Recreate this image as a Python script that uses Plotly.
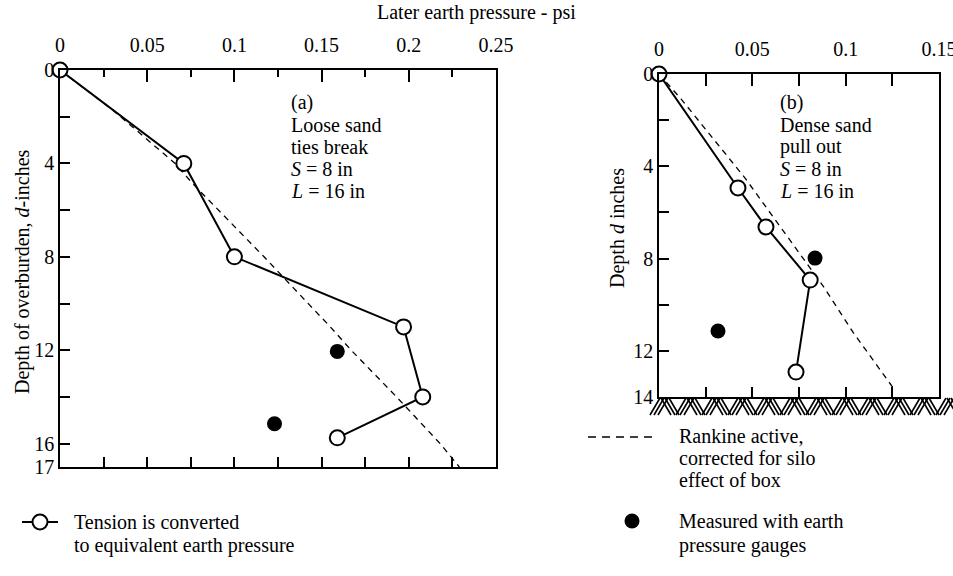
import plotly.graph_objects as go

# ---------------- data ----------------
# panel (a) loose sand, ties break
a_tension_psi = [0, 0.071, 0.100, 0.197, 0.208, 0.159]
a_tension_depth = [0, 4.0, 8.0, 11.0, 14.0, 15.75]
a_gauge_psi = [0.159, 0.123]
a_gauge_depth = [12.05, 15.15]
a_rankine_psi = [0, 0.014, 0.030, 0.066, 0.0765, 0.117, 0.155, 0.167, 0.193, 0.218, 0.229]
a_rankine_depth = [0, 0.8, 1.7, 4.0, 4.9, 8.0, 11.0, 12.0, 14.0, 16.0, 17.0]

# panel (b) dense sand, pull out
b_tension_psi = [0, 0.0423, 0.0573, 0.0810, 0.0734]
b_tension_depth = [0, 4.94, 6.63, 8.93, 12.92]
b_gauge_psi = [0.0836, 0.0316]
b_gauge_depth = [7.98, 11.14]
b_rankine_psi = [0, 0.012, 0.046, 0.074, 0.088, 0.104, 0.1254]
b_rankine_depth = [0, 1.1, 4.5, 7.6, 9.2, 11.2, 13.6]

a_xticks = [0, 0.05, 0.10, 0.15, 0.20, 0.25]
a_xtick_text = ["0", "0.05", "0.1", "0.15", "0.2", "0.25"]
a_yticks = [0, 4, 8, 12, 16, 17]
b_xticks = [0, 0.05, 0.10, 0.15]
b_xtick_text = ["0", "0.05", "0.1", "0.15"]
b_yticks = [0, 4, 8, 12, 14]

W, H = 953, 576
FONT = "Liberation Serif, Times New Roman, serif"
BLK = "black"


def px_x(x):
    return x / W


def px_y(y):
    return 1 - y / H


fig = go.Figure()

# ---- panel a ----
fig.add_trace(go.Scatter(x=a_rankine_psi, y=a_rankine_depth, mode="lines",
                         line=dict(color=BLK, width=1.3, dash="6px,5px"),
                         xaxis="x", yaxis="y", showlegend=False, cliponaxis=False))
fig.add_trace(go.Scatter(x=a_tension_psi, y=a_tension_depth, mode="lines+markers",
                         line=dict(color=BLK, width=2),
                         marker=dict(symbol="circle", size=15, color="white",
                                     line=dict(color=BLK, width=2)),
                         xaxis="x", yaxis="y", showlegend=False, cliponaxis=False))
fig.add_trace(go.Scatter(x=a_gauge_psi, y=a_gauge_depth, mode="markers",
                         marker=dict(symbol="circle", size=15, color=BLK),
                         xaxis="x", yaxis="y", showlegend=False, cliponaxis=False))
# dummy trace so the bottom overlay axis is drawn
fig.add_trace(go.Scatter(x=[None], y=[None], mode="markers", xaxis="x3", yaxis="y",
                         showlegend=False, hoverinfo="skip"))

# ---- panel b ----
fig.add_trace(go.Scatter(x=b_rankine_psi, y=b_rankine_depth, mode="lines",
                         line=dict(color=BLK, width=1.3, dash="6px,5px"),
                         xaxis="x2", yaxis="y2", showlegend=False, cliponaxis=False))
fig.add_trace(go.Scatter(x=b_tension_psi, y=b_tension_depth, mode="lines+markers",
                         line=dict(color=BLK, width=2),
                         marker=dict(symbol="circle", size=15, color="white",
                                     line=dict(color=BLK, width=2)),
                         xaxis="x2", yaxis="y2", showlegend=False, cliponaxis=False))
fig.add_trace(go.Scatter(x=b_gauge_psi, y=b_gauge_depth, mode="markers",
                         marker=dict(symbol="circle", size=15, color=BLK),
                         xaxis="x2", yaxis="y2", showlegend=False, cliponaxis=False))
fig.add_trace(go.Scatter(x=[None], y=[None], mode="markers", xaxis="x4", yaxis="y2",
                         showlegend=False, hoverinfo="skip"))

# ---- decoration on a pixel overlay axis (legend keys, ground hatch) ----
hx, hy = [], []
x0 = 650
while x0 < W + 10:
    for i in range(3):
        s = x0 + i * 4
        hx += [s, s + 10, None]
        hy += [415, 398, None]
    for i in range(3):
        s = x0 + 13 + i * 4
        hx += [s - 2, s + 8, None]
        hy += [398, 415, None]
    x0 += 26
fig.add_trace(go.Scatter(x=hx, y=hy, mode="lines", line=dict(color=BLK, width=1.6),
                         xaxis="x5", yaxis="y5", showlegend=False, hoverinfo="skip"))
# legend keys
fig.add_trace(go.Scatter(x=[22, 58], y=[522, 522], mode="lines", line=dict(color=BLK, width=2),
                         xaxis="x5", yaxis="y5", showlegend=False, hoverinfo="skip"))
fig.add_trace(go.Scatter(x=[40], y=[522], mode="markers",
                         marker=dict(symbol="circle", size=15, color="white",
                                     line=dict(color=BLK, width=2)),
                         xaxis="x5", yaxis="y5", showlegend=False, hoverinfo="skip"))
fig.add_trace(go.Scatter(x=[588, 656], y=[437, 437], mode="lines",
                         line=dict(color=BLK, width=1.3, dash="8px,6px"),
                         xaxis="x5", yaxis="y5", showlegend=False, hoverinfo="skip"))
fig.add_trace(go.Scatter(x=[632], y=[521], mode="markers",
                         marker=dict(symbol="circle", size=15, color=BLK),
                         xaxis="x5", yaxis="y5", showlegend=False, hoverinfo="skip"))

tickfont = dict(family=FONT, size=20, color=BLK)

ax_common = dict(showgrid=False, zeroline=False, showline=True, linecolor=BLK, linewidth=1.5,
                 ticks="inside", tickcolor=BLK, tickfont=tickfont, automargin=False,
                 ticklabeloverflow="allow")

layout = dict(
    template="none",
    width=W, height=H, autosize=False,
    margin=dict(l=0, r=0, t=0, b=0, pad=0),
    paper_bgcolor="white", plot_bgcolor="rgba(0,0,0,0)",
    font=dict(family=FONT, size=20, color=BLK),
    showlegend=False,
    xaxis=dict(domain=[px_x(60), px_x(496)], range=[0, 0.25], side="top", anchor="y",
               tickmode="array", tickvals=a_xticks, ticktext=a_xtick_text, ticklen=12, tickwidth=1.5,
               ticklabelstandoff=8,
               minor=dict(tickvals=[0.025, 0.075, 0.125, 0.175, 0.225], ticklen=7, ticks="inside",
                          tickcolor=BLK, tickwidth=1.5),
               **ax_common),
    yaxis=dict(domain=[px_y(467), px_y(70)], range=[17, 0], anchor="x", mirror=True,
               tickmode="array", tickvals=a_yticks, ticktext=[str(v) for v in a_yticks],
               ticklen=10, tickwidth=1.5,
               minor=dict(tickvals=[2, 6, 10, 14], ticklen=10, ticks="inside", tickcolor=BLK, tickwidth=1.5),
               **ax_common),
    xaxis3=dict(overlaying="x", anchor="y", side="bottom", range=[0, 0.25],
                tickmode="array", tickvals=[0.025, 0.05, 0.075, 0.1, 0.125, 0.15, 0.175, 0.2, 0.225],
                ticklen=10, tickwidth=1.5, showticklabels=False, **ax_common),
    xaxis2=dict(domain=[px_x(659), px_x(939)], range=[0, 0.15], side="top", anchor="y2",
                tickmode="array", tickvals=b_xticks, ticktext=b_xtick_text, ticklen=12, tickwidth=1.5,
                ticklabelstandoff=8,
                minor=dict(tickvals=[0.025, 0.075, 0.125], ticklen=12, ticks="inside",
                           tickcolor=BLK, tickwidth=1.5),
                **ax_common),
    yaxis2=dict(domain=[px_y(397), px_y(74)], range=[14, 0], anchor="x2", mirror=True,
                tickmode="array", tickvals=b_yticks, ticktext=[str(v) for v in b_yticks],
                ticklen=10, tickwidth=1.5,
                minor=dict(tickvals=[2, 6, 10], ticklen=10, ticks="inside", tickcolor=BLK, tickwidth=1.5),
                **ax_common),
    xaxis4=dict(overlaying="x2", anchor="y2", side="bottom", range=[0, 0.15],
                tickmode="array", tickvals=[0.025, 0.05, 0.075, 0.1, 0.125],
                ticklen=10, tickwidth=1.5, showticklabels=False, **ax_common),
    xaxis5=dict(domain=[0, 1], range=[0, W], visible=False, anchor="y5", fixedrange=True,
                automargin=False),
    yaxis5=dict(domain=[0, 1], range=[H, 0], visible=False, anchor="x5", fixedrange=True,
                automargin=False),
)
fig.update_layout(**layout)

anns = []


def txt(x, y, s, xanchor="left", angle=0, size=20):
    anns.append(dict(x=px_x(x), y=px_y(y), xref="paper", yref="paper", text=s,
                     showarrow=False, xanchor=xanchor, yanchor="middle", textangle=angle,
                     font=dict(family=FONT, size=size, color=BLK)))


txt(476, 13, "Later earth pressure - psi", xanchor="center")
txt(22, 272, "Depth of overburden, <i>d</i>-inches", xanchor="center", angle=-90)
txt(618, 228, "Depth <i>d</i> inches", xanchor="center", angle=-90)

a_lines = ["(a)", "Loose sand", "ties break", "<i>S</i> = 8 in", "<i>L</i> = 16 in"]
b_lines = ["(b)", "Dense sand", "pull out", "<i>S</i> = 8 in", "<i>L</i> = 16 in"]
ys = [103, 125, 147, 169, 191]
for s, y in zip(a_lines, ys):
    txt(289, y, s)
for s, y in zip(b_lines, ys):
    txt(778, y, s)

txt(72, 522, "Tension is converted")
txt(72, 545, "to equivalent earth pressure")
txt(677, 436, "Rankine active,")
txt(677, 458, "corrected for silo")
txt(677, 480, "effect of box")
txt(677, 521, "Measured with earth")
txt(677, 545, "pressure gauges")

fig.update_layout(annotations=anns)
fig.write_html("out.html", config={"displayModeBar": False},
               post_script="document.body.style.margin='0px';document.body.style.overflow='hidden';")
